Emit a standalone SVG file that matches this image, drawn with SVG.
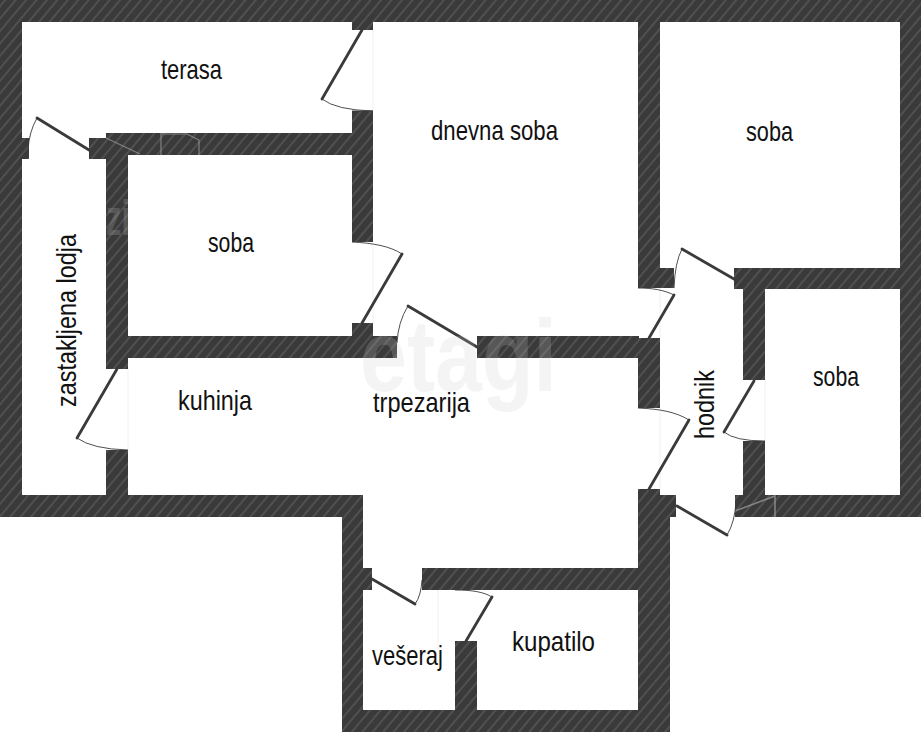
<svg xmlns="http://www.w3.org/2000/svg" width="921" height="733" viewBox="0 0 921 733">
<defs>
<pattern id="hatch" patternUnits="userSpaceOnUse" width="8" height="8" patternTransform="rotate(40)">
<rect width="8" height="8" fill="#3a3a3a"/>
<line x1="4" y1="0" x2="4" y2="8" stroke="#8c8c8c" stroke-width="0.55"/>
</pattern>
</defs>
<style>
.w{fill:url(#hatch)}
.leaf{stroke:#3a3a3a;stroke-width:2.8;fill:none;stroke-linecap:round}
.arc{stroke:#3a3a3a;stroke-width:0.9;fill:none}
.faint{stroke:#f0f0f0;stroke-width:1;fill:none}
.ghost{stroke:#9a9a9a;stroke-width:1.2;fill:none;opacity:.75}
.lab{font-family:"Liberation Sans Narrow","Liberation Sans",sans-serif;font-size:28px;fill:#111}
</style>
<rect width="921" height="733" fill="#fff"/>
<g id="openings">
<path class="faint" d="M373 30V111M373 244V323M128 369V450M660 288V338M660 408V489M765 380V441M438 590V650"/>
</g>
<g id="walls">
<rect class="w" x="0" y="0" width="921" height="22"/>
<rect class="w" x="0" y="0" width="22" height="517"/>
<rect class="w" x="900" y="0" width="21" height="517"/>
<rect class="w" x="0" y="495" width="363" height="22"/>
<rect class="w" x="342" y="495" width="21" height="237"/>
<rect class="w" x="342" y="710" width="328" height="22"/>
<rect class="w" x="363" y="568" width="9" height="22"/>
<rect class="w" x="422" y="568" width="217" height="22"/>
<rect class="w" x="455" y="641" width="22" height="70"/>
<rect class="w" x="638" y="489" width="22" height="222"/>
<rect class="w" x="655" y="495" width="21" height="22"/>
<rect class="w" x="655" y="510" width="15" height="222"/>
<rect class="w" x="22" y="138" width="7" height="21"/>
<rect class="w" x="89" y="138" width="39" height="21"/>
<rect class="w" x="106" y="133" width="267" height="22"/>
<rect class="w" x="352" y="22" width="21" height="8"/>
<rect class="w" x="352" y="111" width="21" height="131"/>
<rect class="w" x="106" y="138" width="22" height="231"/>
<rect class="w" x="106" y="450" width="22" height="46"/>
<rect class="w" x="128" y="336" width="269" height="22"/>
<rect class="w" x="352" y="323" width="21" height="14"/>
<rect class="w" x="477" y="336" width="162" height="22"/>
<rect class="w" x="638" y="338" width="22" height="70"/>
<rect class="w" x="638" y="22" width="22" height="266"/>
<rect class="w" x="655" y="268" width="19" height="20"/>
<rect class="w" x="734" y="268" width="167" height="21"/>
<rect class="w" x="743" y="268" width="22" height="112"/>
<rect class="w" x="743" y="441" width="22" height="55"/>
<rect class="w" x="735" y="495" width="186" height="22"/>
</g>
<g id="wall-marks">
<path class="ghost" d="M106 138L140 154M161 133V155M161 134H187L199 140V155"/>
<path class="ghost" d="M735 511L775 496V517" style="stroke-width:1.6"/>
</g>
<g id="doors">
<path class="leaf" d="M362 30L322 99"/><path class="arc" d="M322 99Q336 110 373 111H352"/>
<path class="leaf" d="M89 150L37 118"/><path class="arc" d="M37 118Q29 132 28 150"/>
<path class="leaf" d="M402 254L362 323"/><path class="arc" d="M352 242C372 243 390 246 402 254"/>
<path class="leaf" d="M408 306L477 347"/><path class="arc" d="M408 306Q398 322 397 343"/>
<path class="leaf" d="M117 369L77 438"/><path class="arc" d="M77 438Q92 449 128 450"/>
<path class="leaf" d="M674 295L649 338"/><path class="arc" d="M638 288C652 288 664 290 674 295"/>
<path class="leaf" d="M682 249L734 279"/><path class="arc" d="M682 249Q675 262 674 288"/>
<path class="leaf" d="M689 420L649 489"/><path class="arc" d="M638 408C660 409 676 412 689 420"/>
<path class="leaf" d="M754 381L724 432"/><path class="arc" d="M724 432Q735 441 765 441"/>
<path class="leaf" d="M677 506L727 535"/><path class="arc" d="M727 535Q735 522 736 501"/>
<path class="leaf" d="M372 579L415 604"/><path class="arc" d="M415 604Q421 596 422 580"/>
<path class="leaf" d="M492 597L466 641"/><path class="arc" d="M455 590C472 590 484 592 492 597"/>
</g>
<g id="labels">
<text class="lab" x="161" y="79" textLength="61" lengthAdjust="spacingAndGlyphs">terasa</text>
<text class="lab" x="431" y="140" textLength="127" lengthAdjust="spacingAndGlyphs">dnevna soba</text>
<text class="lab" x="746" y="141" textLength="47" lengthAdjust="spacingAndGlyphs">soba</text>
<text class="lab" x="208" y="252" textLength="46" lengthAdjust="spacingAndGlyphs">soba</text>
<text class="lab" transform="translate(76 407) rotate(-90)" textLength="173" lengthAdjust="spacingAndGlyphs">zastakljena lodja</text>
<text class="lab" x="178" y="410" textLength="74" lengthAdjust="spacingAndGlyphs">kuhinja</text>
<text class="lab" x="373" y="412" textLength="97" lengthAdjust="spacingAndGlyphs">trpezarija</text>
<text class="lab" transform="translate(714 439) rotate(-90)" textLength="69" lengthAdjust="spacingAndGlyphs">hodnik</text>
<text class="lab" x="813" y="386" textLength="46" lengthAdjust="spacingAndGlyphs">soba</text>
<text class="lab" x="372" y="665" textLength="71" lengthAdjust="spacingAndGlyphs">vešeraj</text>
<text class="lab" x="512" y="651" textLength="83" lengthAdjust="spacingAndGlyphs">kupatilo</text>
</g>
<g id="watermark" style="font-family:'Liberation Sans',sans-serif;font-weight:700;fill:#ccc;opacity:.2">
<text x="360" y="391" font-size="102" textLength="197" lengthAdjust="spacingAndGlyphs">etagi</text>
<text x="106" y="235" font-size="50" textLength="24" lengthAdjust="spacingAndGlyphs">zi</text>
</g>
</svg>
